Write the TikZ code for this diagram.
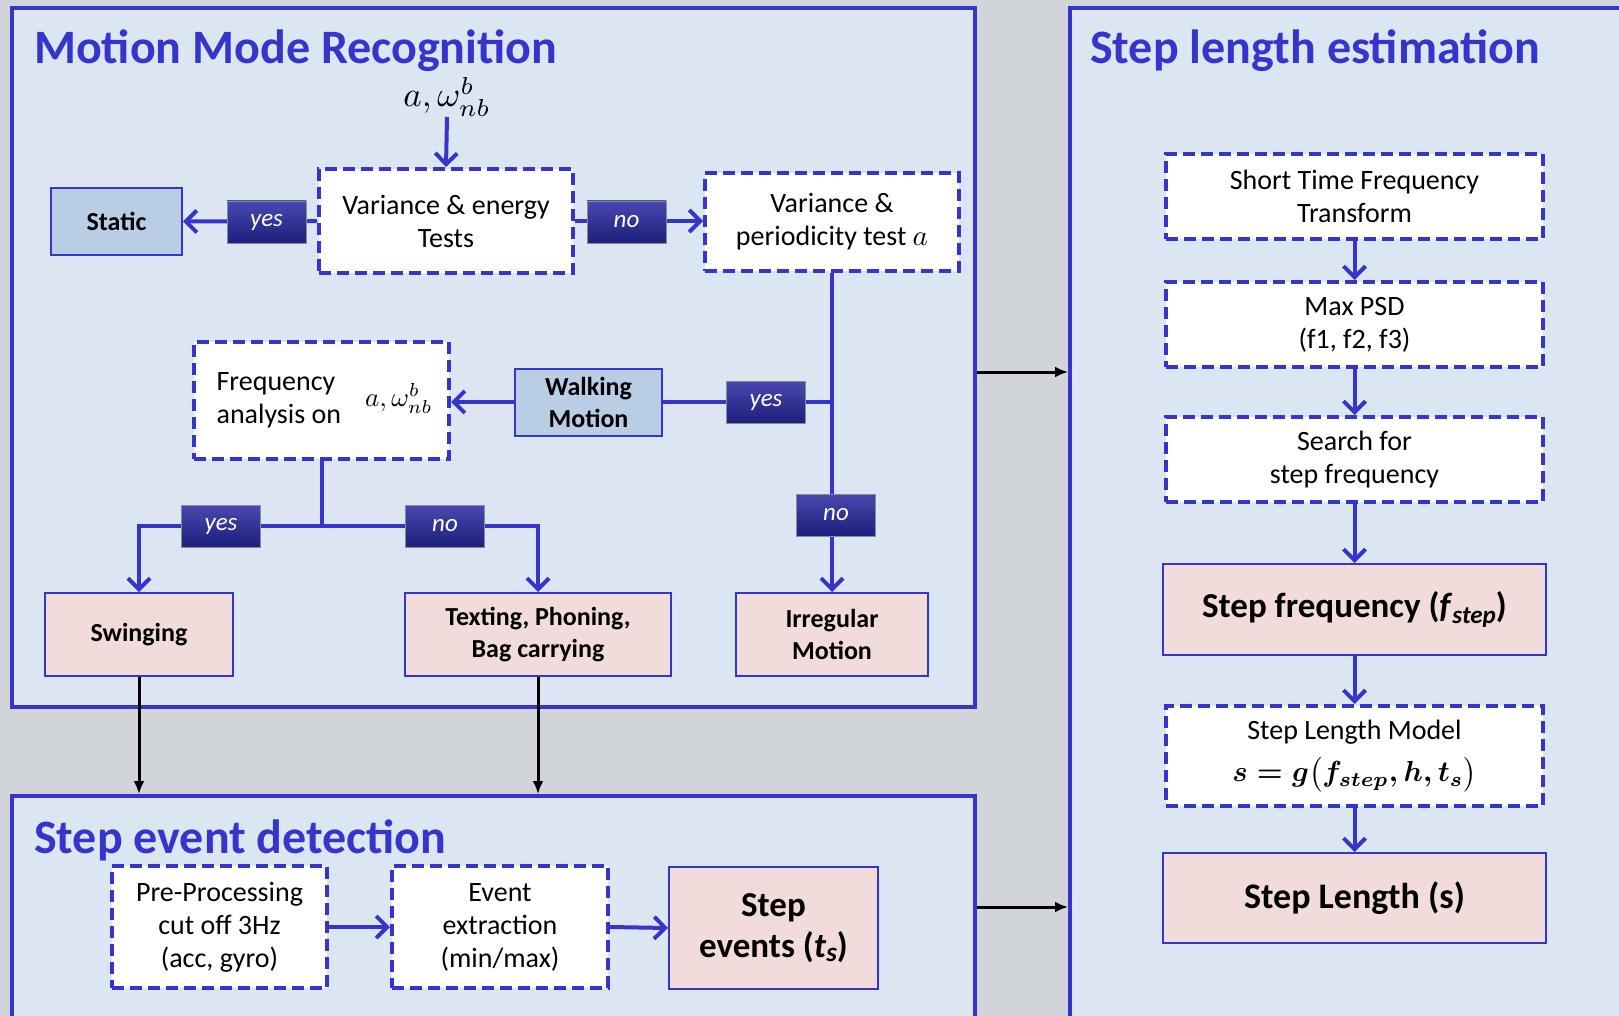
\documentclass[tikz,border=0pt]{standalone}
\usepackage{graphicx}
\usepackage{fontspec}
\setmainfont{Carlito}
\usetikzlibrary{arrows.meta}
\definecolor{bgray}{RGB}{209,213,218}
\definecolor{panelc}{RGB}{220,230,242}
\definecolor{mblue}{RGB}{53,53,204}
\definecolor{steel}{RGB}{185,205,229}
\definecolor{pinkb}{RGB}{242,220,219}
\definecolor{labtop}{RGB}{72,72,175}
\definecolor{labbot}{RGB}{30,30,125}
\newcommand{\bigmath}[2]{\scalebox{#1}{\fontsize{10}{12}\selectfont$#2$}}
\begin{document}
\begin{tikzpicture}[x=1pt,y=-1pt,
 panelbox/.style={draw=mblue, line width=4pt, fill=panelc, rectangle, inner sep=0pt},
 ttl/.style={text=mblue, font=\fontsize{48}{52}\selectfont\bfseries, anchor=base west, inner sep=0pt},
 dbox/.style={draw=mblue, fill=white, line width=4pt, dash pattern=on 12pt off 6pt, align=center, font=\fontsize{28}{33}\selectfont, inner sep=0pt, text=black},
 sbox/.style={draw=mblue, fill=steel, line width=2pt, align=center, font=\fontsize{26}{32}\selectfont\bfseries, inner sep=0pt},
 pbox/.style={draw=mblue, fill=pinkb, line width=2pt, align=center, font=\fontsize{26}{32}\selectfont\bfseries, inner sep=0pt},
 lab/.style={draw=black!45, line width=0.8pt, top color=labtop, bottom color=labbot, text=white, font=\fontsize{25}{28}\selectfont\itshape, minimum width=79pt, minimum height=42pt, inner sep=0pt},
 conn/.style={draw=mblue, line width=4pt, line join=miter},
 arr/.style={conn, -{Straight Barb[length=11pt,width=22pt]}},
 barr/.style={draw=black, line width=3pt, -{Latex[length=13pt,width=11pt]}},
]
\useasboundingbox (0,0) rectangle (1619,1016);
\clip (0,0) rectangle (1619,1016);
\fill[bgray] (0,0) rectangle (1619,1016);

% panels
\node[panelbox, minimum width=963pt, minimum height=699pt] (panel1) at (493.5,357.5) {};
\node[panelbox, minimum width=963pt, minimum height=254pt] (panel2) at (493.5,923) {};
\node[panelbox, minimum width=580pt, minimum height=1042pt] (panel3) at (1360,529) {};

\node[ttl] (t1) at (34,64) {Motion Mode Recognition};
\node[ttl] (t2) at (1090,64) {Step length estimation};
\node[ttl] (t3) at (34,853) {Step event detection};

% Motion mode recognition
\node[anchor=south, inner sep=0pt] (inp) at (447,117) {\bigmath{3.5}{a,\omega^{b}_{nb}}};
\node[dbox, minimum width=254pt, minimum height=104pt] (varE) at (446,221) {Variance \& energy\\Tests};
\node[sbox, minimum width=131pt, minimum height=67pt] (static) at (116.5,221.5) {Static};
\node[dbox, minimum width=254pt, minimum height=98pt] (varP) at (832,222) {Variance \&\\periodicity test \bigmath{2.9}{a}};
\node[dbox, minimum width=255pt, minimum height=117pt] (freq) at (321.5,400)
  {\begin{tabular}[c]{@{}l@{}}Frequency\\analysis on\end{tabular}\hspace{24pt}\bigmath{2.7}{a,\omega^{b}_{nb}}\hspace{-6pt}};
\node[sbox, minimum width=147pt, minimum height=67pt] (walk) at (588.5,402) {Walking\\Motion};
\node[pbox, minimum width=188pt, minimum height=83pt] (swing) at (139,634.5) {Swinging};
\node[pbox, minimum width=266pt, minimum height=83pt] (text) at (538,634.5) {Texting, Phoning,\\Bag carrying};
\node[pbox, minimum width=192pt, minimum height=83pt] (irreg) at (832,634.5) {Irregular\\Motion};

% Step event detection
\node[dbox, minimum width=215pt, minimum height=122pt] (pre) at (219.5,927) {Pre-Processing\\cut off 3Hz\\(acc, gyro)};
\node[dbox, minimum width=216pt, minimum height=122pt] (event) at (500,927) {Event\\extraction\\(min/max)};
\node[pbox, minimum width=209pt, minimum height=122pt, font=\fontsize{35}{41}\selectfont\bfseries] (stepev) at (773.5,928)
  {Step\\events (\textit{t}\raisebox{-0.25ex}{\fontsize{27}{27}\selectfont\textit{s}})};

% Step length estimation
\node[dbox, minimum width=377pt, minimum height=85pt] (stft) at (1354.5,196.5) {Short Time Frequency\\Transform};
\node[dbox, minimum width=377pt, minimum height=85pt] (psd) at (1354.5,324.5) {Max PSD\\(f1, f2, f3)};
\node[dbox, minimum width=377pt, minimum height=85pt] (search) at (1354.5,459.5) {Search for\\step frequency};
\node[pbox, minimum width=383pt, minimum height=91pt, font=\fontsize{35}{40}\selectfont\bfseries] (sfreq) at (1354.5,609.5)
  {Step frequency (\textit{f}\raisebox{-0.35ex}{\fontsize{25}{25}\selectfont\textit{step}})};
\node[dbox, minimum width=377pt, minimum height=100pt] (slm) at (1354.5,756)
  {Step Length Model\\[9pt]\scalebox{2.9}{\fontsize{10}{12}\selectfont\boldmath$s=g\bigl(f_{step},h,t_{s}\bigr)$}};
\node[pbox, minimum width=383pt, minimum height=90pt, font=\fontsize{36}{40}\selectfont\bfseries] (slen) at (1354.5,898) {Step Length (s)};

% connectors
\draw[arr] (inp.south) -- (varE.north);
\draw[arr] (varE.west) -- (static.east);
\draw[arr] (varE.east) -- (varE.east -| varP.west);
\draw[arr] (varP.south) -- (varP.south |- irreg.north);
\draw[conn] (walk.east) -- (walk.east -| varP.south);
\draw[arr] (walk.west) -- (walk.west -| freq.east);
\coordinate (j2) at (321.5,526);
\draw[conn] (freq.south) -- (j2);
\draw[arr] (j2) -| (swing.north);
\draw[arr] (j2) -| (text.north);

\draw[arr] (pre.east) -- (event.west);
\draw[arr] (event.east) -- (stepev.west);

\draw[arr] (stft.south) -- (psd.north);
\draw[arr] (psd.south) -- (search.north);
\draw[arr] (search.south) -- (sfreq.north);
\draw[arr] (sfreq.south) -- (slm.north);
\draw[arr] (slm.south) -- (slen.north);

% black arrows
\coordinate (a1) at (975,372);
\coordinate (a2) at (975,907);
\draw[barr] (swing.south) -- (swing.south |- panel2.north);
\draw[barr] (text.south) -- (text.south |- panel2.north);
\draw[barr] (panel1.east |- a1) -- (panel3.west |- a1);
\draw[barr] (panel2.east |- a2) -- (panel3.west |- a2);

% yes / no labels
\node[lab] (l1) at (266.5,222) {yes};
\node[lab] (l2) at (626.5,222) {no};
\node[lab] (l3) at (766,402) {yes};
\node[lab] (l4) at (836,515) {no};
\node[lab] (l5) at (221,526) {yes};
\node[lab] (l6) at (445,526) {no};
\end{tikzpicture}
\end{document}
